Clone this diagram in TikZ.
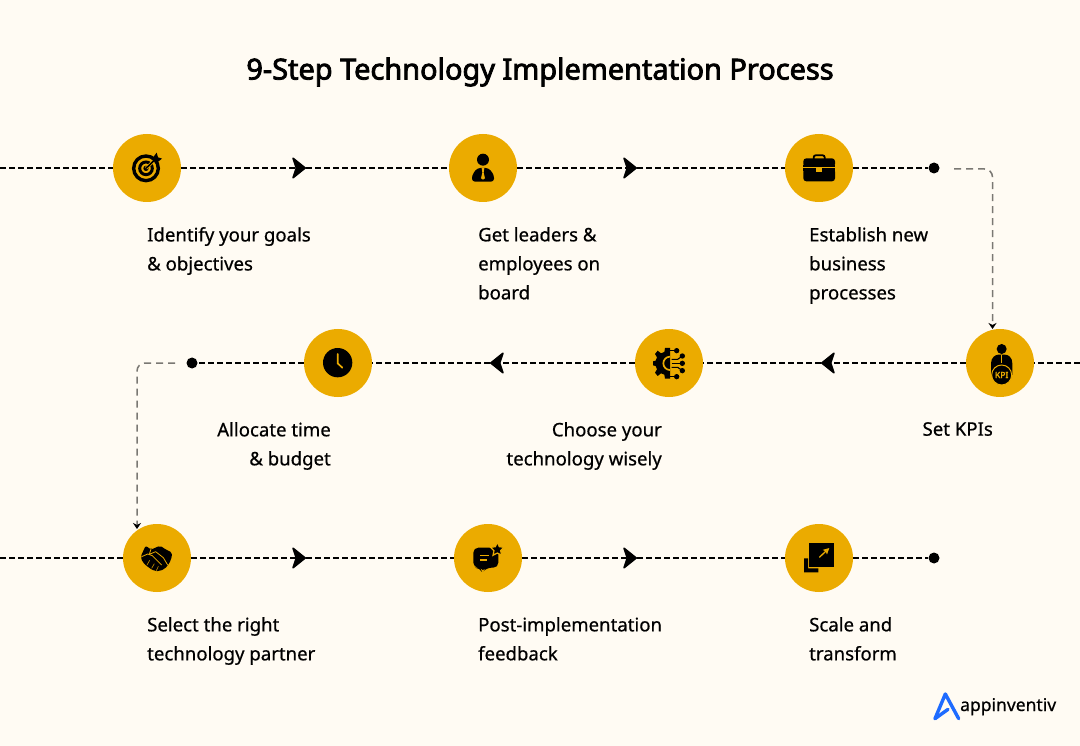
\documentclass[tikz,border=0pt]{standalone}
\usepackage{fontspec}
\setmainfont{Noto Sans}
\newfontfamily\bodyf[RawFeature={embolden=0.6}]{Noto Sans}
\newfontfamily\titlef[RawFeature={embolden=2.8}]{Noto Sans}
\usetikzlibrary{arrows.meta}
\definecolor{bg}{HTML}{FFFBF3}
\definecolor{amber}{HTML}{EBAB00}
\definecolor{linkgray}{HTML}{7A7873}
\definecolor{logoblue}{HTML}{1E6BFF}
\tikzset{
  stepcircle/.style={circle,fill=amber,minimum size=68pt,inner sep=0pt},
  enddot/.style={circle,fill=black,minimum size=11pt,inner sep=0pt},
  flow/.style={line width=2.2pt,dash pattern=on 6pt off 3pt,black},
  flowtip/.style={flow,-{Stealth[length=15pt,width=24pt,inset=4pt,line width=1.6pt,round]}},
  link/.style={line width=1.5pt,dash pattern=on 7pt off 5pt,linkgray,rounded corners=8pt},
  linktip/.style={link,-{Stealth[length=6pt,width=8pt,black]}},
  lbl/.style={inner sep=0pt,font=\bodyf\fontsize{18.6}{29}\selectfont},
  lleft/.style={lbl,anchor=north west,align=left},
  lright/.style={lbl,anchor=north east,align=right},
  ico/.style={x=0.33333pt,y=-0.33333pt},
}
\begin{document}
\begin{tikzpicture}[x=1pt,y=-1pt]
\useasboundingbox (0,0) rectangle (1080,746);
\fill[bg] (0,0) rectangle (1080,746);
\node[font=\titlef\fontsize{28.9}{34}\selectfont,inner sep=0pt] (title) at (540,72) {9-Step Technology Implementation Process};
% coordinates
\coordinate (in1) at (0,168); \coordinate (in2) at (1080,363); \coordinate (in3) at (0,558);
\coordinate (m1) at (306,168); \coordinate (m2) at (637,168);
\coordinate (m4) at (821,363); \coordinate (m5) at (490,363);
\coordinate (m7) at (306,558); \coordinate (m8) at (637,558);
\coordinate (g1) at (954,169); \coordinate (gc1) at (992.5,169); \coordinate (ge1) at (992.5,329);
\coordinate (g2) at (175,363); \coordinate (gc2) at (137,363); \coordinate (ge2) at (137,529);
% circles
\node[stepcircle] (c1) at (147,168) {};
\node[stepcircle] (c2) at (483,168) {};
\node[stepcircle] (c3) at (819,168) {};
\node[stepcircle] (c4) at (1000,363) {};
\node[stepcircle] (c5) at (669,363) {};
\node[stepcircle] (c6) at (338,363) {};
\node[stepcircle] (c7) at (157,558) {};
\node[stepcircle] (c8) at (488,558) {};
\node[stepcircle] (c9) at (819,558) {};
\node[enddot] (d1) at (934,168) {};
\node[enddot] (d2) at (192,363) {};
\node[enddot] (d3) at (934,558) {};
% connectors
\draw[flow] (in1) -- (c1);
\draw[flowtip] (c1) -- (m1); \draw[flow] (m1) -- (c2);
\draw[flowtip] (c2) -- (m2); \draw[flow] (m2) -- (c3);
\draw[flow] (c3) -- (d1);
\draw[flow] (in2) -- (c4);
\draw[flowtip] (c4) -- (m4); \draw[flow] (m4) -- (c5);
\draw[flowtip] (c5) -- (m5); \draw[flow] (m5) -- (c6);
\draw[flow] (c6) -- (d2);
\draw[flow] (in3) -- (c7);
\draw[flowtip] (c7) -- (m7); \draw[flow] (m7) -- (c8);
\draw[flowtip] (c8) -- (m8); \draw[flow] (m8) -- (c9);
\draw[flow] (c9) -- (d3);
\draw[linktip] (g1) -- (gc1) -- (ge1);
\draw[linktip] (g2) -- (gc2) -- (ge2);
% labels
\node[lleft] (t1) at (147,227) {Identify your goals\\\& objectives};
\node[lleft] (t2) at (478,227) {Get leaders \&\\employees on\\board};
\node[lleft] (t3) at (809,227) {Establish new\\business\\processes};
\node[lright] (t4) at (993,422) {Set KPIs};
\node[lright] (t5) at (662,422) {Choose your\\technology wisely};
\node[lright] (t6) at (331,422) {Allocate time\\\& budget};
\node[lleft] (t7) at (147,617) {Select the right\\technology partner};
\node[lleft] (t8) at (478,617) {Post-implementation\\feedback};
\node[lleft] (t9) at (809,617) {Scale and\\transform};
% icon 1 target
\begin{scope}[shift={(100,120)},ico]
\draw[line width=3.4pt] (138,145) circle (37);
\draw[line width=3pt] (138,145) circle (19);
\fill (138,145) circle (8);
\draw[amber,line width=3pt] (138,145) -- (172,112);
\draw[line width=1.6pt] (138,145) -- (172,112);
\fill (155,118) -- (170,98) -- (174,112) -- (186,116) -- (168,130) -- cycle;
\end{scope}
% icon 2 person
\begin{scope}[shift={(440,125)},ico]
\fill (129,104) circle (18);
\fill[rounded corners=3pt] (96,170) -- (96,150) -- (112,129) -- (146,129) -- (162,150) -- (162,170) -- cycle;
\fill[amber] (125,129) -- (133,129) -- (131,143) -- (135,160) -- (129,164) -- (123,160) -- (127,143) -- cycle;
\end{scope}
% icon 3 briefcase
\begin{scope}[shift={(775,125)},ico]
\draw[line width=1.8pt,rounded corners=2pt] (116,103) -- (116,91) -- (149,91) -- (149,103);
\fill[rounded corners=3pt] (85,100) rectangle (180,126);
\fill[rounded corners=3pt] (85,131) rectangle (180,169);
\fill (85,120) rectangle (180,137);
\draw[amber,line width=0.7pt] (85,128) -- (180,128);
\fill[amber] (124,125) rectangle (140,141);
\end{scope}
% icon 4 KPI
\begin{scope}[shift={(955,320)},ico]
\fill (140,87) circle (15);
\fill (108,130) .. controls (108,112) and (122,104) .. (130,104) -- (150,104) .. controls (160,104) and (172,112) .. (172,130) -- (172,165) -- (108,165) -- cycle;
\draw[amber,line width=0.8pt] (140,104) -- (140,130);
\fill[draw=amber,line width=1pt] (140,165) circle (30);
\node[text=amber,inner sep=0pt,font=\titlef\fontsize{8.5}{9}\selectfont] (kpi) at (140,165) {KPI};
\end{scope}
% icon 5 gear
\begin{scope}[shift={(625,320)},ico]
\fill (135,84) -- (120,84) -- (118,96) -- (108,100) -- (98,92) -- (90,102) -- (96,112) -- (92,122) -- (84,124) -- (84,136) -- (92,138) -- (96,148) -- (90,158) -- (98,168) -- (108,160) -- (118,164) -- (120,176) -- (135,176) -- cycle;
\draw[amber,line width=1.7pt] (135,150) arc[start angle=90,end angle=270,radius=20];
\draw[line width=1.1pt] (135,92) -- (155,92);
\draw[line width=1.1pt] (135,170) -- (155,170);
\draw[line width=1.1pt] (140,130) -- (172,130);
\draw[line width=1.1pt] (140,118) -- (158,118) -- (172,108);
\draw[line width=1.1pt] (140,142) -- (158,142) -- (172,152);
\foreach \p in {(155,92),(172,108),(172,130),(172,152),(155,170)} \fill \p circle (8);
\end{scope}
% icon 6 clock
\begin{scope}[shift={(125,320)},ico]
\fill (638,128) circle (44);
\draw[amber,line width=1.7pt,line cap=round,line join=round] (638,102) -- (638,130) -- (652,143);
\end{scope}
% icon 7 handshake
\begin{scope}[shift={(115,515)},ico]
\fill[rounded corners=2pt] (77,125) -- (92,92) -- (108,104) -- (135,92) -- (155,105) -- (172,113) -- (168,135) -- (158,152) -- (148,162) -- (135,168) -- (118,168) -- (100,157) -- (83,142) -- cycle;
\draw[amber,line width=0.8pt,line join=round] (80,125) -- (98,117) -- (112,122) -- (140,150);
\draw[amber,line width=0.8pt,line join=round] (108,102) -- (103,118) -- (122,110) -- (145,128) -- (158,150);
\draw[amber,line width=0.5pt] (104,136) -- (96,150);
\draw[amber,line width=0.5pt] (118,146) -- (110,160);
\draw[amber,line width=0.5pt] (130,154) -- (124,167);
\end{scope}
% icon 8 feedback
\begin{scope}[shift={(445,515)},ico]
\fill[rounded corners=5pt] (85,98) -- (160,98) -- (160,158) -- (125,158) -- (112,172) -- (105,158) -- (85,158) -- cycle;
\fill[draw=amber,line width=1.2pt] (157,82) -- (163,95) -- (177,97) -- (167,107) -- (170,121) -- (157,114) -- (144,121) -- (147,107) -- (137,97) -- (151,95) -- cycle;
\draw[amber,line width=1.2pt] (105,122) -- (132,122);
\draw[amber,line width=1.2pt] (105,135) -- (125,135);
\end{scope}
% icon 9 scale
\begin{scope}[shift={(775,515)},ico]
\fill (103,84) rectangle (177,157);
\fill (87,130) -- (99,130) -- (99,160) -- (130,160) -- (130,172) -- (87,172) -- cycle;
\draw[amber,line width=1.3pt,-{Stealth[length=6pt,width=6pt,inset=1pt,open]}] (133,127) -- (163,99);
\end{scope}
% logo
\begin{scope}[shift={(920,680)},ico]
\draw[logoblue,line width=3.4pt,line join=round,line cap=round] (45,116) -- (76,42) -- (116,116);
\draw[logoblue,line width=3.4pt,line join=round,line cap=round] (45,116) -- (84,88);
\end{scope}
\node[inner sep=0pt,anchor=base west,font=\bodyf\fontsize{17.5}{22}\selectfont] (logo) at (960,711) {appinventiv};
\end{tikzpicture}
\end{document}
